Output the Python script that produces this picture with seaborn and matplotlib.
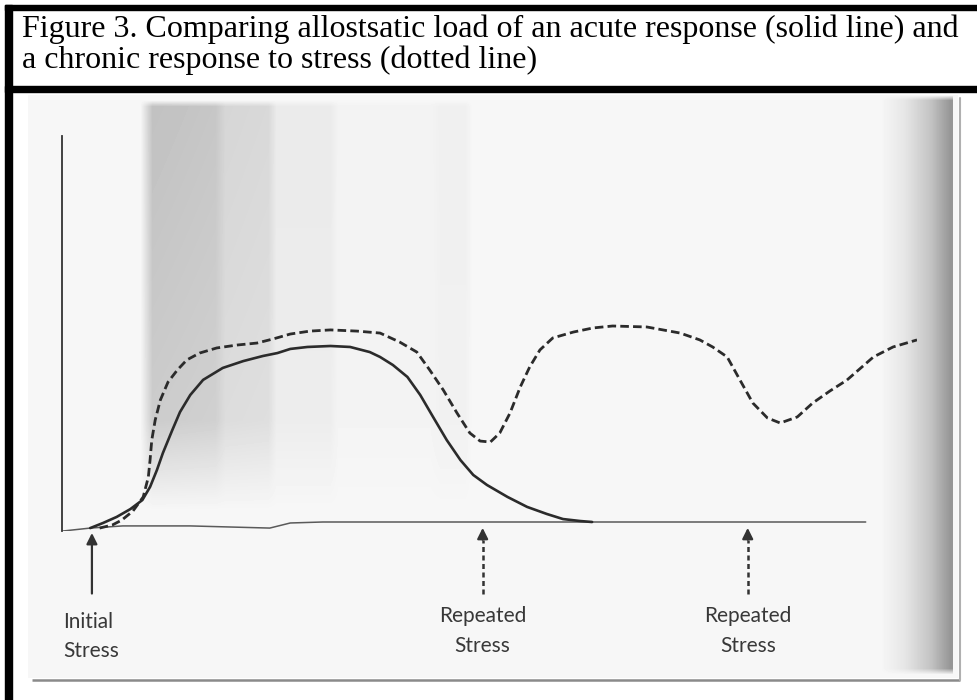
import numpy as np
import matplotlib
matplotlib.use("Agg")
import matplotlib.pyplot as plt
from matplotlib.patches import Rectangle
import seaborn as sns

# Acute response (solid line), arbitrary time / load units
acute_time = [3.3, 4.8, 6.4, 8.0, 9.4, 10.3, 11.1, 11.8, 12.9, 13.8, 15.0, 16.5, 18.8,
              21.2, 23.5, 25.2, 26.7, 28.7, 31.4, 33.7, 36.0, 37.2, 38.7, 40.4, 41.9,
              43.4, 45.0, 46.6, 48.1, 49.7, 52.1, 54.4, 56.7, 58.6, 60.6, 62.0]
acute_load = [-3.1, -0.5, 2.6, 6.6, 11.2, 17.9, 26.5, 35.2, 46.9, 56.1, 64.8, 72.5, 78.6,
              82.1, 84.7, 86.2, 88.3, 89.3, 89.8, 89.3, 86.7, 84.2, 80.1, 74.0, 64.8,
              53.6, 41.8, 31.6, 24.0, 18.9, 12.8, 7.7, 4.1, 1.5, 0.5, 0.0]

# Chronic response (dotted line)
chronic_time = [4.4, 5.9, 7.0, 8.3, 9.5, 10.1, 10.3, 10.5, 10.9, 11.5, 12.4, 13.5, 14.6,
                16.1, 18.1, 20.5, 22.8, 24.7, 26.7, 29.0, 31.4, 34.5, 37.2, 39.5, 41.5,
                43.0, 44.6, 46.2, 47.7, 48.9, 50.1, 51.2, 52.4, 53.6, 54.7, 55.9, 57.4,
                59.8, 62.1, 64.4, 68.4, 72.3, 74.6, 76.1, 77.8, 79.3, 80.8, 82.5, 84.0,
                86.0, 87.8, 89.8, 91.8, 93.3, 94.9, 97.2, 100.0]
chronic_load = [-3.1, -1.5, 1.0, 5.6, 12.8, 23.0, 31.6, 41.8, 52.0, 62.2, 71.4, 77.6, 82.7,
                86.2, 88.8, 90.3, 91.3, 93.4, 95.9, 97.4, 98.0, 97.4, 96.4, 91.8, 86.7,
                77.6, 67.3, 55.6, 45.4, 41.3, 40.8, 45.4, 55.6, 68.9, 79.1, 87.8, 93.9,
                96.9, 99.0, 100.0, 99.5, 96.4, 92.9, 89.3, 84.2, 72.4, 60.7, 53.1, 50.5,
                53.6, 60.7, 66.8, 72.4, 78.1, 84.2, 89.3, 92.9]

# baseline (resting level)
base_time = [0.1, 3.3, 7.1, 15.0, 24.3, 26.7, 30.5, 94.0]
base_load = [-4.6, -3.1, -2.0, -2.0, -3.1, -0.5, 0.0, 0.0]

stress_time = [3.5, 49.2, 80.2]
stress_label = ["Initial\nStress", "Repeated\nStress", "Repeated\nStress"]
stress_kind = ["initial", "repeated", "repeated"]

title_lines = ["Figure 3. Comparing allostsatic load of an acute response (solid line) and",
               "a chronic response to stress (dotted line)"]

sns.set_style("white")
plt.rcParams["font.family"] = ["Liberation Serif", "DejaVu Serif"]

W, H = 977, 700
fig = plt.figure(figsize=(W / 100, H / 100), dpi=100)

# background layer in pixel units: scan shading and frame
bg = fig.add_axes([0, 0, 1, 1])
bg.set_xlim(0, W)
bg.set_ylim(H, 0)
bg.axis("off")

xx = np.arange(W)
yy = np.arange(H)
band = np.interp(xx, [140, 152, 215, 225, 268, 276, 330, 338, 430, 440, 465, 472],
                 [0, 0.21, 0.19, 0.13, 0.12, 0.05, 0.05, 0.015, 0.015, 0.03, 0.03, 0])
band_fade = np.interp(yy, [100, 106, 420, 510], [0, 1, 0.8, 0])
edge = np.interp(xx, [880, 905, 930, 950, 952, 953], [0, 0.07, 0.2, 0.38, 0.38, 0])
edge_fade = np.interp(yy, [95, 100, 668, 674], [0, 1, 1, 0])
img = 0.968 - np.outer(band_fade, band) - np.outer(edge_fade, edge)
inside = np.outer((yy >= 95) & (yy <= 677), (xx >= 28) & (xx <= 957))
img = np.where(inside, img, 1.0)
bg.imshow(img, cmap="gray", vmin=0, vmax=1, extent=(0, W, H, 0), aspect="auto",
          interpolation="bilinear")
bg.plot([32, 960], [680, 680], color="#8a8a8a", lw=1.8, solid_capstyle="butt")
bg.plot([960, 960], [98, 680], color="#b0b0b0", lw=1.5)
bg.add_patch(Rectangle((5, 5), W, 5, color="black"))
bg.add_patch(Rectangle((5, 86), W, 6, color="black"))
bg.add_patch(Rectangle((5, 5), 7, H, color="black"))

# title, fitted to the width of the box
renderer = fig.canvas.get_renderer()
fs = 17.5
t1 = bg.text(22, 37, title_lines[0], fontsize=fs, va="baseline", ha="left", color="black")
w1 = t1.get_window_extent(renderer).width
fs = fs * 936 / w1
t1.set_fontsize(fs)
bg.text(22, 68, title_lines[1], fontsize=fs, va="baseline", ha="left", color="black")

# chart axes
base_px, top_px, bot_px = 522, 136, 531
px_per_unit = 1.96
left_px, right_px = 62, 917
ax = fig.add_axes([left_px / W, (H - bot_px) / H, (right_px - left_px) / W, (bot_px - top_px) / H])
ax.patch.set_alpha(0)
ax.set_xlim(0, 100)
ax.set_ylim((base_px - bot_px) / px_per_unit, (base_px - top_px) / px_per_unit)
sns.despine(ax=ax, top=True, right=True, bottom=True)
ax.spines["left"].set_color("#333333")
ax.spines["left"].set_linewidth(1.3)
ax.set_xticks([])
ax.set_yticks([])

sns.lineplot(x=base_time, y=base_load, ax=ax, color="#5a5a5a", lw=1.1, sort=False)
sns.lineplot(x=chronic_time, y=chronic_load, ax=ax, color="#2b2b2b", lw=2.0, sort=False,
             linestyle=(0, (3.1, 1.5)))
sns.lineplot(x=acute_time, y=acute_load, ax=ax, color="#2b2b2b", lw=1.9, sort=False)
ax.set_xlabel("")
ax.set_ylabel("")

label_font = ["Lato", "DejaVu Sans"]
tail = -36.5
for t, lab, kind in zip(stress_time, stress_label, stress_kind):
    if kind == "initial":
        tip = -5.6
        ax.annotate("", xy=(t, tip), xytext=(t, tail), annotation_clip=False,
                    arrowprops=dict(arrowstyle="-|>", color="#333333", lw=1.6,
                                    mutation_scale=16, shrinkA=0, shrinkB=0))
        ax.text(t - 3.4, -58.5, lab, ha="left", va="center", fontsize=15, color="#383838",
                linespacing=1.6, family=label_font, clip_on=False)
    else:
        tip = -3.0
        ax.plot([t, t], [tail, tip - 6], color="#333333", lw=1.8, ls=(0, (2, 1.4)),
                clip_on=False)
        ax.annotate("", xy=(t, tip), xytext=(t, tip - 6), annotation_clip=False,
                    arrowprops=dict(arrowstyle="-|>", color="#333333", lw=1.6,
                                    mutation_scale=16, shrinkA=0, shrinkB=0))
        ax.text(t, -55.5, lab, ha="center", va="center", fontsize=15, color="#383838",
                linespacing=1.6, family=label_font, clip_on=False)

fig.savefig("out.png", dpi=100)
